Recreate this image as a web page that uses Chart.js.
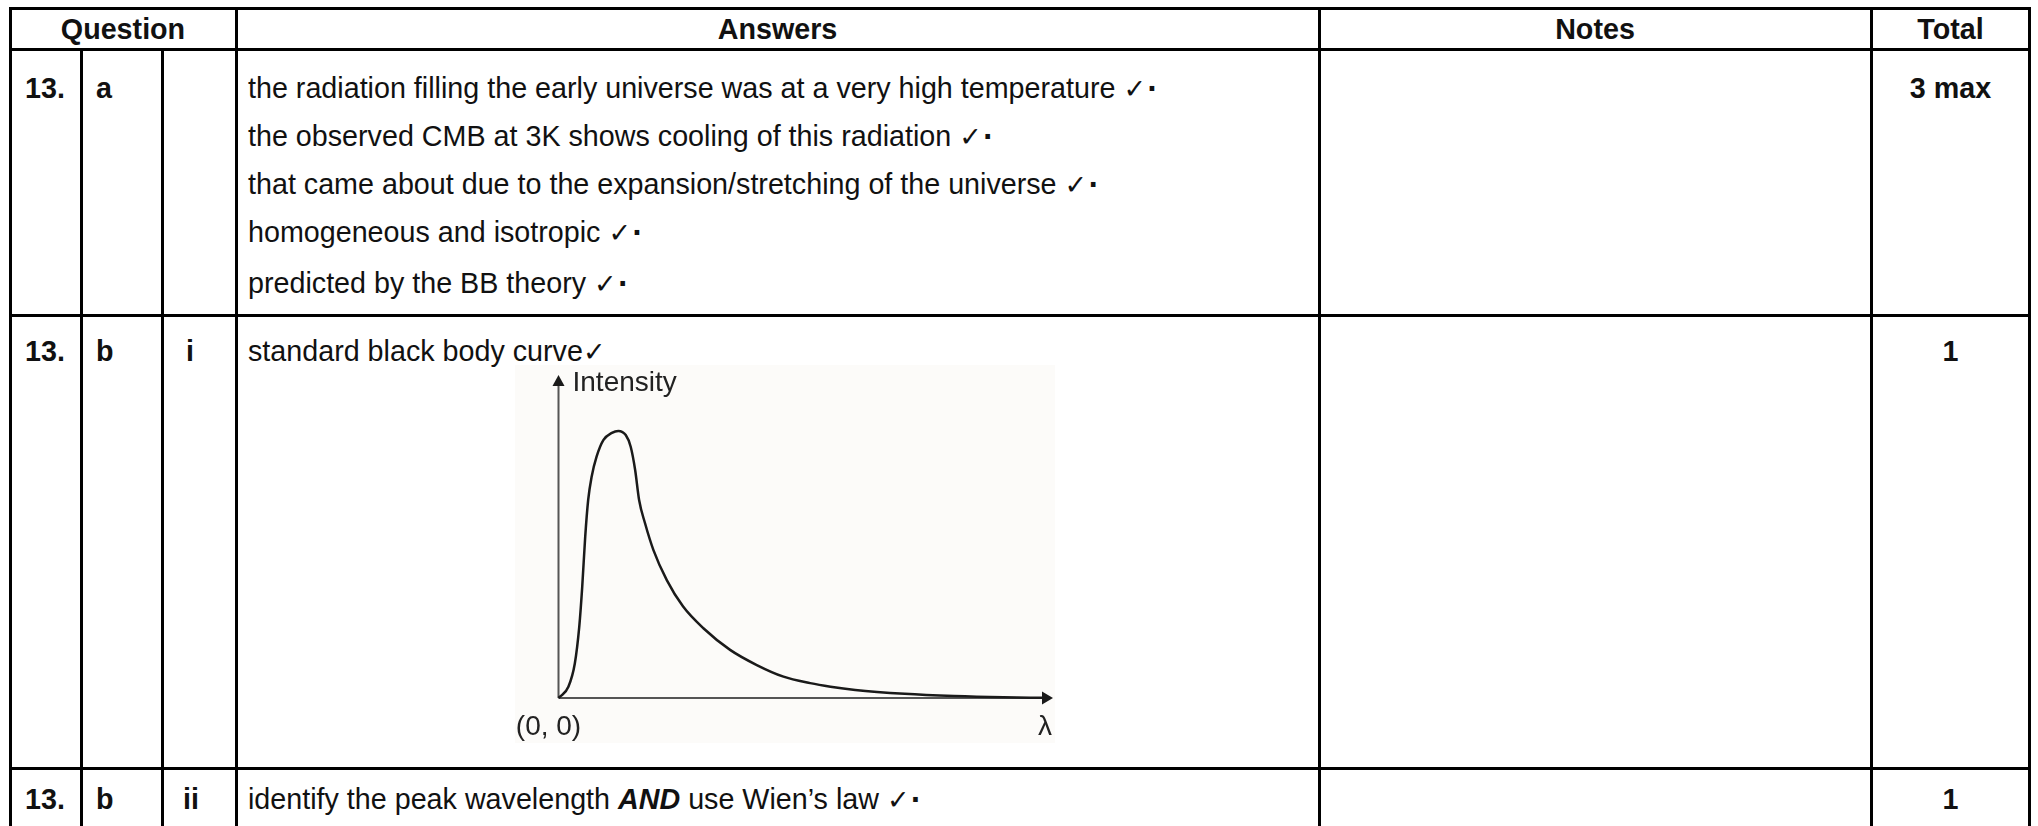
<!DOCTYPE html>
<html>
<head>
<meta charset="utf-8">
<script src="https://cdn.jsdelivr.net/npm/chart.js@4.4.1/dist/chart.umd.min.js"></script>
<style>
  html, body { margin:0; padding:0; background:#fff; }
  body { width:2038px; height:826px; position:relative; overflow:hidden;
         font-family:'Liberation Sans', Arial, Helvetica, sans-serif; color:#111; }
  .h { position:absolute; height:3px; background:#000; }
  .v { position:absolute; width:3px; background:#000; }
  .t { position:absolute; font-size:28.7px; line-height:34px; white-space:nowrap; transform:translateY(-50%); }
  .b { font-weight:bold; }
  .c { text-align:center; }
  .chk { font-family:'DejaVu Sans', sans-serif; font-size:27px; }
  .dot { font-family:'DejaVu Sans', sans-serif; font-weight:bold; font-size:26px; margin-left:1px; }
  #plotbg { position:absolute; left:515px; top:365px; width:540px; height:378px; background:#fcfbf9; }
  #plotwrap { position:absolute; left:515px; top:365px; width:545px; height:378px; }
</style>
</head>
<body>
<!-- grid lines -->
<div class="h" style="left:9px; width:2022px; top:7px;"></div>
<div class="h" style="left:9px; width:2022px; top:48px;"></div>
<div class="h" style="left:9px; width:2022px; top:314px;"></div>
<div class="h" style="left:9px; width:2022px; top:767px;"></div>
<div class="v" style="left:9px; top:7px; height:830px;"></div>
<div class="v" style="left:80px; top:48px; height:790px;"></div>
<div class="v" style="left:161px; top:48px; height:790px;"></div>
<div class="v" style="left:235px; top:7px; height:830px;"></div>
<div class="v" style="left:1318px; top:7px; height:830px;"></div>
<div class="v" style="left:1870px; top:7px; height:830px;"></div>
<div class="v" style="left:2028px; top:7px; height:830px;"></div>

<!-- header -->
<div class="t b c" style="left:10px; width:226px; top:29px;">Question</div>
<div class="t b c" style="left:236px; width:1083px; top:29px;">Answers</div>
<div class="t b c" style="left:1319px; width:552px; top:29px;">Notes</div>
<div class="t b c" style="left:1871px; width:159px; top:29px;">Total</div>

<!-- row a -->
<div class="t b" style="left:25px; top:88px;">13.</div>
<div class="t b" style="left:96px; top:88px;">a</div>
<div class="t" style="left:248px; top:88px;">the radiation filling the early universe was at a very high temperature <span class="chk">✓</span><span class="dot">·</span></div>
<div class="t" style="left:248px; top:136px;">the observed CMB at 3K shows cooling of this radiation <span class="chk">✓</span><span class="dot">·</span></div>
<div class="t" style="left:248px; top:184px;">that came about due to the expansion/stretching of the universe <span class="chk">✓</span><span class="dot">·</span></div>
<div class="t" style="left:248px; top:232px;">homogeneous and isotropic <span class="chk">✓</span><span class="dot">·</span></div>
<div class="t" style="left:248px; top:283px;">predicted by the BB theory <span class="chk">✓</span><span class="dot">·</span></div>
<div class="t b c" style="left:1871px; width:159px; top:88px;">3 max</div>

<!-- row b i -->
<div class="t b" style="left:25px; top:351px;">13.</div>
<div class="t b" style="left:96px; top:351px;">b</div>
<div class="t b" style="left:186px; top:351px;">i</div>
<div class="t" style="left:248px; top:351px;">standard black body curve<span class="chk">✓</span></div>
<div class="t b c" style="left:1871px; width:159px; top:351px;">1</div>

<div id="plotbg"></div>
<div id="plotwrap"><canvas id="bb" width="545" height="378"></canvas></div>

<!-- row b ii -->
<div class="t b" style="left:25px; top:799px;">13.</div>
<div class="t b" style="left:96px; top:799px;">b</div>
<div class="t b" style="left:183px; top:799px;">ii</div>
<div class="t" style="left:248px; top:799px;">identify the peak wavelength <b><i>AND</i></b> use Wien’s law <span class="chk">✓</span><span class="dot">·</span></div>
<div class="t b c" style="left:1871px; width:159px; top:799px;">1</div>

<script>
// Black body curve (arbitrary units, axis 0..100)
const wavelength = [0, 0.3, 2.0, 3.3, 4.2, 4.8, 5.4, 6.0, 6.7, 7.7, 9.1, 10.8, 12.1, 13.6, 14.6, 15.5, 16.3, 17.5, 19.2, 21.9, 25.2, 29.3, 34.7, 40.1, 45.5, 50.9, 55, 60, 70, 80, 90, 98];
const intensity  = [0, 0.4, 3.5, 10.7, 22.1, 34.5, 49.9, 61.3, 68.5, 74.7, 79.9, 82.1, 82.7, 81.4, 77.8, 70.6, 61.3, 54.1, 45.8, 36.5, 28.3, 21.6, 14.9, 10.2, 6.6, 4.6, 3.5, 2.5, 1.3, 0.6, 0.2, 0.05];
const axisRange = [0, 100];
const yAxisLabel = 'Intensity';
const xAxisLabel = 'λ';
const originLabel = '(0, 0)';

const points = wavelength.map((x, i) => ({ x: x, y: intensity[i] }));

const axesPlugin = {
  id: 'arrowAxes',
  beforeDatasetsDraw(chart) {
    const ctx = chart.ctx;
    const xs = chart.scales.x, ys = chart.scales.y;
    const x0 = xs.getPixelForValue(axisRange[0]);
    const x1 = xs.getPixelForValue(axisRange[1]);
    const y0 = ys.getPixelForValue(axisRange[0]);
    const y1 = ys.getPixelForValue(axisRange[1]);
    ctx.save();
    ctx.strokeStyle = '#555';
    ctx.lineWidth = 2;
    ctx.beginPath();
    ctx.moveTo(x0, y0); ctx.lineTo(x1 - 8, y0);
    ctx.moveTo(x0, y0); ctx.lineTo(x0, y1 + 8);
    ctx.stroke();
    ctx.fillStyle = '#1a1a1a';
    ctx.beginPath();
    ctx.moveTo(x1, y0); ctx.lineTo(x1 - 11, y0 - 6.5); ctx.lineTo(x1 - 11, y0 + 6.5); ctx.closePath();
    ctx.fill();
    ctx.beginPath();
    ctx.moveTo(x0, y1); ctx.lineTo(x0 - 6, y1 + 11); ctx.lineTo(x0 + 6, y1 + 11); ctx.closePath();
    ctx.fill();
    ctx.fillStyle = '#222';
    ctx.font = '28px "Liberation Sans", Arial, sans-serif';
    ctx.textBaseline = 'middle';
    ctx.textAlign = 'left';
    ctx.fillText(yAxisLabel, x0 + 14, y1 + 8);
    ctx.textAlign = 'center';
    ctx.fillText(originLabel, x0 - 10, y0 + 29);
    ctx.fillText(xAxisLabel, x1 - 8, y0 + 29);
    ctx.restore();
  }
};

new Chart(document.getElementById('bb'), {
  type: 'line',
  data: { datasets: [{
    data: points,
    borderColor: '#1a1a1a',
    borderWidth: 2.5,
    pointRadius: 0,
    fill: false,
    cubicInterpolationMode: 'monotone',
    clip: false
  }]},
  options: {
    responsive: false,
    animation: false,
    layout: { padding: { left: 43.5, right: 7, top: 10, bottom: 45 } },
    plugins: { legend: { display: false }, tooltip: { enabled: false } },
    scales: {
      x: { type: 'linear', min: axisRange[0], max: axisRange[1], display: false },
      y: { type: 'linear', min: axisRange[0], max: axisRange[1], display: false }
    }
  },
  plugins: [axesPlugin]
});
</script>
</body>
</html>
